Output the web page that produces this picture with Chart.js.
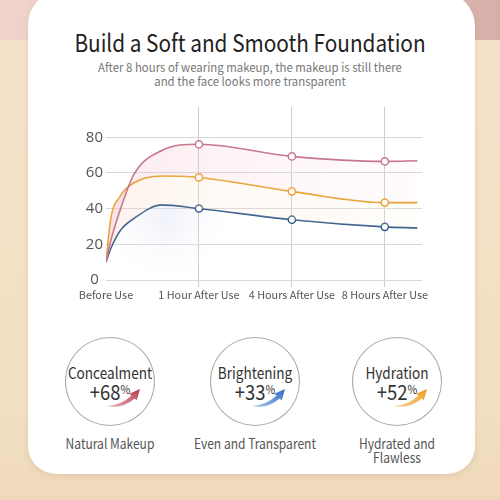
<!DOCTYPE html>
<html>
<head>
<meta charset="utf-8">
<script src="https://cdn.jsdelivr.net/npm/chart.js@4.4.1/dist/chart.umd.min.js"></script>
<style>
  html, body { margin: 0; padding: 0; }
  body {
    width: 500px; height: 500px; overflow: hidden; position: relative;
    font-family: "Noto Sans CJK SC", "Noto Sans", sans-serif;
    background:
      linear-gradient(90deg, #f0d4cc 0%, #e6c4bc 60%, #d6b0a8 100%) top / 100% 40px no-repeat,
      linear-gradient(180deg, #f4e3c9 0%, #f2e0c4 80%, #efd9ba 100%);
  }
  .card {
    position: absolute; left: 28px; top: -8px; width: 447px; height: 482px;
    background: #fff; border-radius: 32px 34px 28px 28px;
    box-shadow: 0 2px 6px rgba(160, 130, 90, 0.18);
  }
  .title {
    position: absolute; left: 0; width: 500px; top: 28px; text-align: center;
    font-size: 24px; line-height: 28px; color: #222; font-weight: 400;
    transform: scaleX(0.865);
  }
  .sub {
    position: absolute; left: 0; width: 500px; top: 60px; text-align: center;
    font-size: 12px; line-height: 14px; color: #777;
    transform: scaleX(0.95);
  }
  #trendBox { position: absolute; left: 40px; top: 95px; width: 400px; height: 215px; }
  .stat { position: absolute; width: 160px; text-align: center; }
  .ring {
    position: absolute; width: 90px; height: 89px; border: 1px solid #a9a9a9;
    border-radius: 50%; box-sizing: border-box;
  }
  .name { position: absolute; left: 0; width: 160px; font-size: 16px; line-height: 18px; color: #333; transform: scaleX(0.85); }
  .pct { position: absolute; left: 0; width: 160px; font-size: 21px; line-height: 22px; color: #333; transform: scaleX(0.88); }
  .pct sup { font-size: 12px; vertical-align: 6px; }
  .arrow { position: absolute; width: 34px; height: 20px; }
  .cap { position: absolute; left: 0; width: 160px; font-size: 14px; line-height: 14px; color: #555; white-space: pre-line; transform: scaleX(0.86); }
</style>
</head>
<body>
<div class="card"></div>
<div class="title">Build a Soft and Smooth Foundation</div>
<div class="sub">After 8 hours of wearing makeup, the makeup is still there<br>and the face looks more transparent</div>
<div id="trendBox"><canvas id="trend" width="400" height="215"></canvas></div>
<div id="stats"></div>
<script>
// x labels, the series sit at x = 0, 1, 2, 3
const categories = ["Before Use", "1 Hour After Use", "4 Hours After Use", "8 Hours After Use"];
const sampleX = [0, 0.05, 0.15, 0.3, 0.6, 1, 2, 3, 3.35];
const concealment = [10, 21.7, 38.8, 59.2, 72.6, 76.1, 69.3, 66.5, 66.9];
const hydration = [10, 34, 46.8, 54.5, 58.3, 57.5, 49.7, 43.4, 43.4];
const brightening = [10, 17.5, 27.5, 34.5, 42.1, 40.1, 33.8, 29.8, 29.2];
const markerX = [1, 2, 3];
const yTicks = [0, 20, 40, 60, 80];

// the three round badges
const statNames = ["Concealment", "Brightening", "Hydration"];
const statGains = [68, 33, 52];
const statCaptions = ["Natural Makeup", "Even and Transparent", "Hydrated and\nFlawless"];

const PINK = "#c7788d";
const ORANGE = "#e7a42b";
const BLUE = "#2f5a8b";

function toPoints(values) {
  return sampleX.map((x, i) => ({ x: x, y: values[i] }));
}

function markerRadius(ctx) {
  const p = ctx.raw;
  return p && markerX.includes(p.x) ? 3.6 : 0;
}

function fillGrad(stops) {
  return (ctx) => {
    const area = ctx.chart.chartArea;
    if (!area) return "rgba(0,0,0,0)";
    const g = ctx.chart.ctx.createLinearGradient(area.left, 0, area.right, 0);
    stops.forEach((s) => g.addColorStop(s[0], s[1]));
    return g;
  };
}

function blueGlow(ctx) {
  const area = ctx.chart.chartArea;
  if (!area) return "rgba(0,0,0,0)";
  const cx = area.left + 60, cy = area.top + 110;
  const g = ctx.chart.ctx.createRadialGradient(cx, cy, 0, cx, cy, 70);
  g.addColorStop(0, "rgba(210,215,240,0.35)");
  g.addColorStop(1, "rgba(255,255,255,0)");
  return g;
}

function lineSet(label, values, color, fill, bg) {
  return {
    label: label,
    data: toPoints(values),
    borderColor: color,
    borderWidth: 1.6,
    cubicInterpolationMode: "monotone",
    pointRadius: markerRadius,
    pointHoverRadius: markerRadius,
    pointBackgroundColor: "#fff",
    pointBorderColor: color,
    pointBorderWidth: 1.5,
    fill: fill,
    backgroundColor: bg,
  };
}

new Chart(document.getElementById("trend"), {
  type: "line",
  data: {
    datasets: [
      lineSet("Concealment", concealment, PINK, "+1", fillGrad([
        [0, "rgba(242,175,192,0.26)"], [0.3, "rgba(244,190,204,0.2)"], [1, "rgba(250,222,228,0.1)"]])),
      lineSet("Hydration", hydration, ORANGE, "+1", fillGrad([
        [0, "rgba(250,205,190,0.26)"], [0.3, "rgba(252,228,205,0.22)"], [1, "rgba(253,242,218,0.14)"]])),
      lineSet("Brightening", brightening, BLUE, "origin", blueGlow),
    ],
  },
  options: {
    responsive: false,
    animation: false,
    layout: { padding: { top: 10, right: 18, bottom: 0, left: 0 } },
    plugins: { legend: { display: false }, tooltip: { enabled: false } },
    scales: {
      x: {
        type: "linear",
        min: 0,
        max: 3.4,
        afterBuildTicks: (s) => { s.ticks = categories.map((_, i) => ({ value: i })); },
        afterFit: (s) => { s.height = 30; },
        ticks: {
          callback: (v) => categories[v],
          color: "#555",
          font: { family: "'Noto Sans CJK SC'", size: 10.8 },
          padding: 1,
          maxRotation: 0,
          autoSkip: false,
        },
        grid: {
          color: (ctx) => (ctx.tick && ctx.tick.value === 0 ? "rgba(0,0,0,0)" : "#cdcdcd"),
          tickLength: 7,
        },
        border: { display: false },
      },
      y: {
        min: 0,
        max: 97,
        afterBuildTicks: (s) => { s.ticks = yTicks.map((v) => ({ value: v })); },
        afterFit: (s) => { s.width = 66; },
        ticks: {
          crossAlign: "center",
          padding: 3,
          color: "#555",
          font: { family: "'Open Sans'", size: 15 },
        },
        grid: { color: "#d8d8d8", drawTicks: false },
        border: { display: false },
      },
    },
  },
});

// badges under the chart
const ringCenters = [110, 255, 397];
const arrowColors = [["#eab0b5", "#b93a4b"], ["#a9c6ec", "#2e6cc0"], ["#f7d398", "#ee9a1c"]];
const box = document.getElementById("stats");
statNames.forEach((name, i) => {
  const cx = ringCenters[i];
  const el = document.createElement("div");
  el.className = "stat";
  el.style.left = (cx - 80) + "px";
  el.style.top = "0px";
  el.innerHTML =
    '<div class="ring" style="left:35px;top:337px"></div>' +
    '<div class="name" style="top:363px">' + name + "</div>" +
    '<div class="pct" style="top:378px">+' + statGains[i] + "<sup>%</sup></div>" +
    '<svg class="arrow" style="left:77px;top:388px" viewBox="0 0 34 20">' +
    '<defs><linearGradient id="ag' + i + '" x1="0" y1="1" x2="1" y2="0">' +
    '<stop offset="0" stop-color="' + arrowColors[i][0] + '"/>' +
    '<stop offset="1" stop-color="' + arrowColors[i][1] + '"/></linearGradient></defs>' +
    '<path d="M0,18 Q14,17 24.5,7.7 L22.2,5.7 L33,1 L29.8,12.3 L27.5,10.5 Q16,21 0,18 Z" fill="url(#ag' + i + ')"/></svg>' +
    '<div class="cap" style="top:436px">' + statCaptions[i] + "</div>";
  box.appendChild(el);
});
</script>
</body>
</html>
